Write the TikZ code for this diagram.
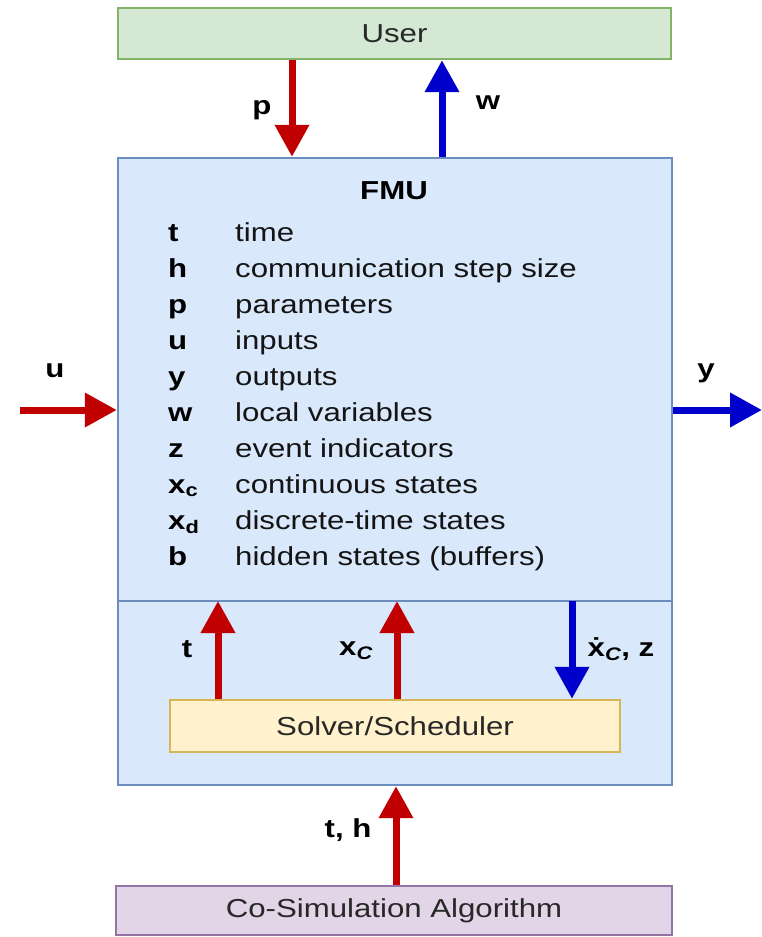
\documentclass[tikz,border=0pt]{standalone}
\usepackage{fontspec}
\setmainfont{Liberation Sans}[FakeStretch=1.2]
\usetikzlibrary{arrows.meta,positioning}
\definecolor{fmuedge}{RGB}{108,142,191}
\definecolor{fmufill}{RGB}{218,232,252}
\definecolor{useredge}{RGB}{130,179,102}
\definecolor{userfill}{RGB}{213,232,212}
\definecolor{solvedge}{RGB}{214,182,86}
\definecolor{solvfill}{RGB}{255,242,204}
\definecolor{cosedge}{RGB}{150,115,166}
\definecolor{cosfill}{RGB}{225,213,231}
\definecolor{sigred}{RGB}{192,0,0}
\definecolor{sigblue}{RGB}{0,0,204}
\definecolor{boxink}{RGB}{40,40,40}
\tikzset{
  blk/.style={
    draw, line width=2.4pt, inner sep=0pt, align=center,
    text=boxink, font=\fontsize{26}{31}\selectfont
  },
  userblk/.style={blk, draw=useredge, fill=userfill, minimum width=553pt, minimum height=51pt},
  fmublk/.style={blk, draw=fmuedge, fill=fmufill, minimum width=554pt, minimum height=627pt},
  solvblk/.style={blk, draw=solvedge, fill=solvfill, minimum width=450pt, minimum height=52pt},
  cosblk/.style={blk, draw=cosedge, fill=cosfill, minimum width=556pt, minimum height=49pt},
  sig/.style={-{Triangle[length=32pt,width=33pt]}, line width=7pt},
  insig/.style={sig, draw=sigred},
  outsig/.style={sig, draw=sigblue},
  lbl/.style={font=\fontsize{26}{31}\selectfont\bfseries, inner sep=0pt, anchor=base},
  sym/.style={font=\fontsize{26}{31}\selectfont\bfseries, inner sep=0pt, anchor=base west},
  itm/.style={font=\fontsize{26}{31}\selectfont, inner sep=0pt, anchor=base west, text=black!92}
}

\begin{document}
\begin{tikzpicture}[x=1pt,y=-1pt]
  \useasboundingbox (0,0) rectangle (762,937);
  \node[fmublk] (fmu) at (395,471.5) {};
  \node[userblk] (user) at (394.5,33.5) {User};
  \node[solvblk] (solver) at (395,726) {Solver/Scheduler};
  \node[cosblk] (cosim) at (394,910.5) {Co-Simulation Algorithm};
  \coordinate (sep) at (395,601);
  \draw[fmuedge, line width=2pt] (fmu.west |- sep) -- (fmu.east |- sep);

  \node[lbl] (title) at (394,199) {FMU};
  \foreach \i/\s/\d in {1/t/time, 2/h/communication step size, 3/p/parameters,
      4/u/inputs, 5/y/outputs, 6/w/local variables, 7/z/event indicators,
      8/{x\textsubscript{c}}/continuous states, 9/{x\textsubscript{d}}/discrete-time states,
      10/b/hidden states (buffers)} {
    \node[sym] (sym\i) at (168,{241+36*(\i-1)}) {\s};
    \node[itm] (desc\i) at (235,{241+36*(\i-1)}) {\d};
  }

  \coordinate (px) at (292,0);
  \coordinate (wx) at (442,0);
  \coordinate (uin) at (20,410);
  \coordinate (yout) at (762,410);
  \coordinate (tx) at (218,0);
  \coordinate (xcx) at (397,0);
  \coordinate (dx) at (572,0);
  \coordinate (thx) at (396,0);
  \draw[insig] (user.south -| px) -- (fmu.north -| px);
  \draw[outsig] (fmu.north -| wx) -- (user.south -| wx);
  \draw[insig] (uin) -- (fmu.west |- uin);
  \draw[outsig] (fmu.east |- yout) -- (yout);
  \draw[insig] (solver.north -| tx) -- (tx |- sep);
  \draw[insig] (solver.north -| xcx) -- (xcx |- sep);
  \draw[outsig] (dx |- sep) -- (solver.north -| dx);
  \draw[insig] (cosim.north -| thx) -- (fmu.south -| thx);

  \node[lbl] (plbl) at (262,114) {p};
  \node[lbl] (wlbl) at (488,109) {w};
  \node[lbl] (ulbl) at (55,377) {u};
  \node[lbl] (ylbl) at (706,377) {y};
  \node[lbl] (tlbl) at (187,657) {t};
  \node[lbl] (xclbl) at (356,655) {x\textsubscript{\itshape C}};
  \node[lbl] (dxlbl) at (621,656) {\.{x}\textsubscript{\itshape C}, z};
  \node[lbl] (thlbl) at (348,837) {t, h};
\end{tikzpicture}
\end{document}
